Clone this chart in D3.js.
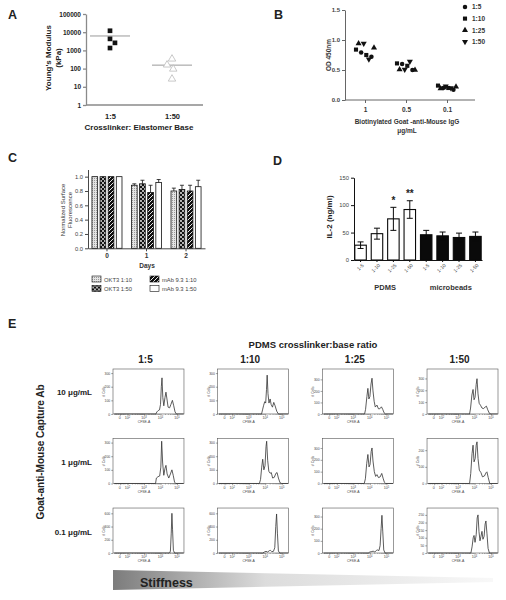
<!DOCTYPE html>
<html><head><meta charset="utf-8">
<script src="https://cdn.jsdelivr.net/npm/d3@7"></script>
<style>
body{margin:0;background:#fff;}
text{font-family:"Liberation Sans",Arial,Helvetica,sans-serif;}
</style></head><body>
<svg id="chart" width="506" height="600"></svg>
<script>
// ---------------- DATA ----------------
// Panel A
const aCategories = ["1:5", "1:50"];
const aValues1to5 = [12000, 4300, 2600, 1350];
const aValues1to50 = [340, 160, 95, 27];
const aJitter1to5 = [0, 0, 0.08, 0];
const aJitter1to50 = [0, -0.08, 0.02, 0];
const aMeans = [6200, 155];
const aYTicks = [1, 10, 100, 1000, 10000, 100000];

// Panel B
const bCategories = ["1", "0.5", "0.1"];
const bSeries = ["1:5", "1:10", "1:25", "1:50"];
const b1to5  = [0.79, 0.72, 0.50, 0.60, 0.20, 0.17];
const b1to10 = [0.84, 0.75, 0.57, 0.61, 0.24, 0.20];
const b1to25 = [0.94, 0.87, 0.50, 0.51, 0.19, 0.22];
const b1to50 = [0.94, 0.68, 0.64, 0.51, 0.23, 0.20];
const bYTicks = [0, 0.5, 1.0, 1.5];

// Panel C
const cDays = ["0", "1", "2"];
const cSeries = ["OKT3 1:10", "OKT3 1:50", "mAb 9.3 1:10", "mAb 9.3 1:50"];
const cOKT3_10 = [1.0, 0.88, 0.80];
const cOKT3_10Err = [0, 0.02, 0.04];
const cOKT3_50 = [1.0, 0.90, 0.82];
const cOKT3_50Err = [0, 0.05, 0.06];
const cMab_10 = [1.0, 0.78, 0.80];
const cMab_10Err = [0, 0.10, 0.08];
const cMab_50 = [1.0, 0.92, 0.86];
const cMab_50Err = [0, 0.04, 0.09];
const cYTicks = [0, 0.2, 0.4, 0.6, 0.8, 1.0];

// Panel D
const dLabels = ["1-5", "1-10", "1-25", "1-50", "1-5", "1-10", "1-25", "1-50"];
const dPDMS = [27, 48, 75, 92];
const dPDMSErr = [6, 10, 21, 16];
const dBeads = [46, 44, 41, 43];
const dBeadsErr = [8, 7, 8, 8];
const dStars = ["", "", "*", "**"];
const dGroups = ["PDMS", "microbeads"];
const dYTicks = [0, 50, 100, 150];

// Panel E
const eColumns = ["1:5", "1:10", "1:25", "1:50"];
const eRows = ["10 \u03bcg/mL", "1 \u03bcg/mL", "0.1 \u03bcg/mL"];
const eXTickValues = [1.54, 2, 3, 4, 5];
const eXTickBase = ["0", "10", "10", "10", "10"];
const eXTickExp = ["", "2", "3", "4", "5"];
const h10_5  = [[1.2,0],[3.72,0],[3.78,15],[3.86,25],[3.94,30],[4.0,70],[4.05,200],[4.09,265],[4.14,120],[4.2,60],[4.27,120],[4.33,160],[4.39,110],[4.46,50],[4.55,45],[4.63,70],[4.72,100],[4.8,60],[4.88,15],[4.96,0],[5.4,0]];
const h10_10 = [[1.2,0],[3.78,0],[3.84,30],[3.9,60],[3.97,90],[4.03,80],[4.08,180],[4.12,285],[4.17,150],[4.23,80],[4.3,110],[4.36,70],[4.44,50],[4.52,85],[4.6,60],[4.7,20],[4.8,0],[5.4,0]];
const h10_25 = [[1.2,0],[3.68,0],[3.74,40],[3.82,150],[3.88,222],[3.94,130],[4.0,150],[4.07,260],[4.13,310],[4.19,200],[4.26,110],[4.33,60],[4.43,77],[4.52,45],[4.6,45],[4.7,62],[4.78,40],[4.86,10],[4.95,0],[5.4,0]];
const h10_50 = [[1.2,0],[3.7,0],[3.76,50],[3.84,160],[3.91,207],[3.97,120],[4.03,140],[4.1,250],[4.15,298],[4.21,170],[4.28,90],[4.36,74],[4.45,50],[4.55,45],[4.65,60],[4.72,66],[4.8,35],[4.9,5],[5.0,0],[5.4,0]];
const h1_5   = [[1.2,0],[3.7,0],[3.75,40],[3.85,50],[3.95,55],[4.02,120],[4.07,310],[4.13,150],[4.2,60],[4.27,110],[4.33,133],[4.4,70],[4.5,40],[4.6,70],[4.69,100],[4.77,60],[4.85,10],[4.93,0],[5.4,0]];
const h1_10  = [[1.2,0],[3.65,0],[3.72,30],[3.79,120],[3.85,178],[3.92,100],[3.99,130],[4.05,270],[4.09,310],[4.15,170],[4.22,90],[4.3,75],[4.37,80],[4.45,40],[4.55,45],[4.65,75],[4.72,80],[4.8,40],[4.9,5],[5.0,0],[5.4,0]];
const h1_25  = [[1.2,0],[3.66,0],[3.73,40],[3.81,170],[3.88,245],[3.95,140],[4.01,160],[4.08,270],[4.13,300],[4.19,190],[4.27,100],[4.35,60],[4.43,75],[4.52,50],[4.62,55],[4.72,85],[4.8,45],[4.88,10],[4.96,0],[5.4,0]];
const h1_50  = [[1.2,0],[3.7,0],[3.77,60],[3.85,180],[3.91,230],[3.97,130],[4.04,150],[4.1,230],[4.15,250],[4.21,150],[4.29,80],[4.39,65],[4.48,40],[4.6,45],[4.7,65],[4.75,70],[4.83,35],[4.92,0],[5.4,0]];
const h01_5  = [[1.2,0],[4.55,0],[4.6,30],[4.65,300],[4.69,600],[4.73,350],[4.78,40],[4.85,0],[5.4,0]];
const h01_10 = [[1.2,0],[3.85,0],[3.95,15],[4.05,25],[4.15,15],[4.25,35],[4.32,40],[4.4,20],[4.5,25],[4.58,80],[4.64,400],[4.69,590],[4.74,300],[4.8,30],[4.88,0],[5.4,0]];
const h01_25 = [[1.2,0],[3.9,0],[4.0,8],[4.12,12],[4.2,15],[4.3,8],[4.4,22],[4.46,25],[4.55,20],[4.62,60],[4.68,200],[4.73,310],[4.78,180],[4.84,25],[4.92,0],[5.4,0]];
const h01_50 = [[1.2,0],[3.78,0],[3.85,40],[3.92,100],[3.97,115],[4.03,70],[4.1,120],[4.16,230],[4.21,250],[4.27,140],[4.33,80],[4.39,110],[4.45,142],[4.51,90],[4.58,110],[4.64,190],[4.69,210],[4.75,130],[4.82,30],[4.9,0],[5.4,0]];
const eYMaxRow1 = [330, 330, 390, 380];
const eYMaxRow2 = [330, 330, 380, 270];
const eYMaxRow3 = [680, 680, 370, 295];
const eYStepRow1 = [100, 100, 100, 100];
const eYStepRow2 = [100, 100, 100, 100];
const eYStepRow3 = [200, 200, 100, 50];

// ---------------- DRAW ----------------
const FONT = "'Liberation Sans', Arial, Helvetica, sans-serif";
const svg = d3.select("#chart");
const defs = svg.append("defs");

function styleAxis(sel, color, width, fs, fw, tc) {
  sel.attr("font-family", FONT);
  sel.selectAll("path,line").attr("stroke", color).attr("stroke-width", width);
  sel.selectAll("text").attr("font-size", fs).attr("font-weight", fw).attr("fill", tc);
}
function label(g, txt, x, y, opts = {}) {
  const t = g.append("text").attr("x", x).attr("y", y).text(txt)
    .attr("font-size", opts.fs || 8).attr("font-weight", opts.fw || "bold")
    .attr("fill", opts.fill || "#222").attr("text-anchor", opts.anchor || "start");
  if (opts.rotate) t.attr("transform", `rotate(-90,${x},${y})`);
  return t;
}

// Panel letters
[["A", 8, 19], ["B", 274, 19], ["C", 8, 162], ["D", 273, 165], ["E", 8, 328]].forEach(([t, x, y]) =>
  label(svg, t, x, y, { fs: 12.5, fill: "#222" }));

// ===== Panel A =====
{
  const g = svg.append("g");
  const x = d3.scalePoint().domain(aCategories).range([110, 172]);
  const y = d3.scaleLog().domain([1, 100000]).range([105, 14]);
  const step = x.step();
  const ya = g.append("g").attr("transform", "translate(86,0)")
    .call(d3.axisLeft(y).tickValues(aYTicks).tickFormat(d3.format("d")).tickSize(3).tickSizeOuter(0).tickPadding(2));
  styleAxis(ya, "#8a8a8a", 1.3, 6.5, "bold", "#222");
  const xa = g.append("g").attr("transform", "translate(0,105)")
    .call(d3.axisBottom(x).tickSize(0).tickPadding(9));
  xa.select(".domain").remove();
  styleAxis(xa, "#8a8a8a", 1.3, 7.5, "bold", "#222");
  g.append("line").attr("x1", 86).attr("x2", 203).attr("y1", 105).attr("y2", 105)
    .attr("stroke", "#8a8a8a").attr("stroke-width", 1.3);
  g.selectAll(".mean").data(aMeans).join("line")
    .attr("x1", (d, i) => x(aCategories[i]) - 20).attr("x2", (d, i) => x(aCategories[i]) + 20)
    .attr("y1", d => y(d)).attr("y2", d => y(d)).attr("stroke", "#999").attr("stroke-width", 1);
  g.selectAll(".sq").data(aValues1to5).join("path")
    .attr("d", d3.symbol(d3.symbolSquare, 22))
    .attr("transform", (d, i) => `translate(${x("1:5") + aJitter1to5[i] * step},${y(d)})`)
    .attr("fill", "#111");
  g.selectAll(".tri").data(aValues1to50).join("path")
    .attr("d", d3.symbol(d3.symbolTriangle, 24))
    .attr("transform", (d, i) => `translate(${x("1:50") + aJitter1to50[i] * step},${y(d)})`)
    .attr("fill", "#fff").attr("stroke", "#bbb").attr("stroke-width", 0.8);
  label(g, "Crosslinker: Elastomer Base", 139, 130, { fs: 8, anchor: "middle" });
  label(g, "Young's Modulus", 51, 58, { fs: 8, anchor: "middle", rotate: true });
  label(g, "(kPa)", 60.5, 58, { fs: 8, anchor: "middle", rotate: true });
}

// ===== Panel B =====
{
  const g = svg.append("g");
  const x = d3.scalePoint().domain(bCategories).range([365, 447]);
  const y = d3.scaleLinear().domain([0, 1.5]).range([100, 10]);
  const ya = g.append("g").attr("transform", "translate(345,0)")
    .call(d3.axisLeft(y).tickValues(bYTicks).tickFormat(d3.format(".1f")).tickSize(3).tickSizeOuter(0).tickPadding(2));
  styleAxis(ya, "#666", 1, 6, "bold", "#444");
  const xa = g.append("g").attr("transform", "translate(0,100)")
    .call(d3.axisBottom(x).tickSize(3).tickSizeOuter(0).tickPadding(4));
  xa.select(".domain").remove();
  styleAxis(xa, "#666", 1, 6.5, "bold", "#333");
  g.append("line").attr("x1", 345).attr("x2", 475).attr("y1", 100).attr("y2", 100)
    .attr("stroke", "#666").attr("stroke-width", 1);
  const symbols = {
    "1:5": d3.symbol(d3.symbolCircle, 16)(),
    "1:10": d3.symbol(d3.symbolSquare, 17)(),
    "1:25": d3.symbol(d3.symbolTriangle, 16)(),
    "1:50": d3.symbol(d3.symbolTriangle, 16)()
  };
  const rot = { "1:5": 0, "1:10": 0, "1:25": 0, "1:50": 180 };
  const seriesVals = { "1:5": b1to5, "1:10": b1to10, "1:25": b1to25, "1:50": b1to50 };
  const slots = d3.scalePoint()
    .domain(["1:10-0", "1:25-0", "1:5-0", "1:50-0", "1:10-1", "1:50-1", "1:5-1", "1:25-1"])
    .range([-9, 9]);
  const pts = [];
  bSeries.forEach(s => seriesVals[s].forEach((v, i) => {
    pts.push({ s, v, cat: bCategories[Math.floor(i / 2)], rep: i % 2 });
  }));
  g.selectAll(".pt").data(pts).join("path")
    .attr("d", d => symbols[d.s])
    .attr("transform", d => `translate(${x(d.cat) + slots(d.s + "-" + ((d.rep + bCategories.indexOf(d.cat)) % 2))},${y(d.v)}) rotate(${rot[d.s]})`)
    .attr("fill", "#111");
  const leg = g.selectAll(".leg").data(bSeries).join("g")
    .attr("transform", (d, i) => `translate(465,${7 + i * 11.6})`);
  leg.append("path").attr("d", d => symbols[d]).attr("transform", d => `rotate(${rot[d]})`).attr("fill", "#111");
  leg.append("text").attr("x", 7).attr("y", 2.3).text(d => d)
    .attr("font-size", 6.5).attr("font-weight", "bold").attr("fill", "#333");
  label(g, "OD 450nm", 331, 55, { fs: 6.5, anchor: "middle", rotate: true, fill: "#333" });
  label(g, "Biotinylated Goat -anti-Mouse IgG", 407, 124, { fs: 6.5, anchor: "middle", fill: "#333" });
  label(g, "\u03bcg/mL", 407, 133, { fs: 6.5, anchor: "middle", fill: "#333" });
}

// ===== Patterns / gradient =====
{
  const p1 = defs.append("pattern").attr("id", "pOKT10").attr("patternUnits", "userSpaceOnUse").attr("width", 2).attr("height", 2);
  p1.append("rect").attr("width", 2).attr("height", 2).attr("fill", "#e4e4e4");
  p1.append("rect").attr("width", 1).attr("height", 1).attr("fill", "#9a9a9a");
  const p2 = defs.append("pattern").attr("id", "pOKT50").attr("patternUnits", "userSpaceOnUse").attr("width", 4).attr("height", 4);
  p2.append("rect").attr("width", 4).attr("height", 4).attr("fill", "#111");
  p2.append("circle").attr("cx", 1).attr("cy", 1).attr("r", 0.9).attr("fill", "#fff");
  p2.append("circle").attr("cx", 3).attr("cy", 3).attr("r", 0.9).attr("fill", "#fff");
  const p3 = defs.append("pattern").attr("id", "pMab10").attr("patternUnits", "userSpaceOnUse").attr("width", 4).attr("height", 4);
  p3.append("rect").attr("width", 4).attr("height", 4).attr("fill", "#111");
  p3.append("path").attr("d", "M-1,1 L1,-1 M0,4 L4,0 M3,5 L5,3").attr("stroke", "#fff").attr("stroke-width", 0.9);
  const grad = defs.append("linearGradient").attr("id", "stiff").attr("x1", "0%").attr("x2", "100%");
  grad.append("stop").attr("offset", "0%").attr("stop-color", "#7c7c7c");
  grad.append("stop").attr("offset", "40%").attr("stop-color", "#dcdcdc");
  grad.append("stop").attr("offset", "100%").attr("stop-color", "#f8f8f8");
}
const cFills = { "OKT3 1:10": "url(#pOKT10)", "OKT3 1:50": "url(#pOKT50)", "mAb 9.3 1:10": "url(#pMab10)", "mAb 9.3 1:50": "#fff" };

// ===== Panel C =====
{
  const g = svg.append("g");
  const x0 = d3.scaleBand().domain(cDays).range([88, 205]).paddingInner(0.24).paddingOuter(0.1);
  const x1 = d3.scaleBand().domain(cSeries).range([0, x0.bandwidth()]).paddingInner(0.3);
  const y = d3.scaleLinear().domain([0, 1.1]).range([248.3, 169.5]);
  const vals = { "OKT3 1:10": [cOKT3_10, cOKT3_10Err], "OKT3 1:50": [cOKT3_50, cOKT3_50Err], "mAb 9.3 1:10": [cMab_10, cMab_10Err], "mAb 9.3 1:50": [cMab_50, cMab_50Err] };
  const bars = [];
  cSeries.forEach(s => cDays.forEach((d, i) => bars.push({ s, d, v: vals[s][0][i], e: vals[s][1][i] })));
  g.selectAll(".bar").data(bars).join("rect")
    .attr("x", d => x0(d.d) + x1(d.s)).attr("width", x1.bandwidth())
    .attr("y", d => y(d.v)).attr("height", d => y(0) - y(d.v))
    .attr("fill", d => cFills[d.s]).attr("stroke", "#111").attr("stroke-width", 0.8);
  const eb = bars.filter(d => d.e > 0);
  g.selectAll(".eb").data(eb).join("path")
    .attr("d", d => {
      const cx = x0(d.d) + x1(d.s) + x1.bandwidth() / 2;
      return `M${cx},${y(d.v)}V${y(d.v + d.e)}M${cx - 2},${y(d.v + d.e)}H${cx + 2}`;
    }).attr("stroke", "#111").attr("stroke-width", 0.8).attr("fill", "none");
  const ya = g.append("g").attr("transform", "translate(88,0)")
    .call(d3.axisLeft(y).tickValues(cYTicks).tickFormat(d3.format(".1f")).tickSize(3).tickSizeOuter(0).tickPadding(2));
  styleAxis(ya, "#333", 0.9, 5.8, "normal", "#444");
  const xa = g.append("g").attr("transform", "translate(0,248.3)")
    .call(d3.axisBottom(x0).tickSize(3).tickSizeOuter(0).tickPadding(2));
  styleAxis(xa, "#333", 0.9, 6.5, "bold", "#333");
  label(g, "Days", 147, 268, { fs: 6.5, anchor: "middle", fill: "#333" });
  label(g, "Normalized Surface", 64.5, 210, { fs: 6, anchor: "middle", rotate: true, fill: "#333", fw: "normal" });
  label(g, "Fluorescence", 71.5, 210, { fs: 6, anchor: "middle", rotate: true, fill: "#333", fw: "normal" });
  const legPos = [[92, 281], [92, 290.5], [150, 281], [150, 290.5]];
  const leg = g.selectAll(".leg").data(cSeries).join("g")
    .attr("transform", (d, i) => `translate(${legPos[i][0]},${legPos[i][1]})`);
  leg.append("rect").attr("x", 0).attr("y", -5).attr("width", 9).attr("height", 6)
    .attr("fill", d => cFills[d]).attr("stroke", "#111").attr("stroke-width", 0.6);
  leg.append("text").attr("x", 12).attr("y", 0.5).text(d => d)
    .attr("font-size", 5.8).attr("fill", "#444");
}

// ===== Panel D =====
{
  const g = svg.append("g");
  const idx = dLabels.map((d, i) => String(i));
  const x = d3.scaleBand().domain(idx).range([354, 482]).paddingInner(0.3).paddingOuter(0.05);
  const y = d3.scaleLinear().domain([0, 150]).range([260, 177.7]);
  const vals = dPDMS.concat(dBeads);
  const errs = dPDMSErr.concat(dBeadsErr);
  const bars = vals.map((v, i) => ({ i: String(i), v, e: errs[i], beads: i >= dPDMS.length }));
  g.selectAll(".bar").data(bars).join("rect")
    .attr("x", d => x(d.i)).attr("width", x.bandwidth())
    .attr("y", d => y(d.v)).attr("height", d => y(0) - y(d.v))
    .attr("fill", d => d.beads ? "#0a0a0a" : "#fff").attr("stroke", "#0a0a0a").attr("stroke-width", 1.1);
  g.selectAll(".eb").data(bars).join("path")
    .attr("d", d => {
      const cx = x(d.i) + x.bandwidth() / 2;
      return `M${cx},${y(d.v - d.e)}V${y(d.v + d.e)}M${cx - 3},${y(d.v + d.e)}H${cx + 3}M${cx - 3},${y(d.v - d.e)}H${cx + 3}`;
    }).attr("stroke", "#0a0a0a").attr("stroke-width", 1).attr("fill", "none");
  g.selectAll(".star").data(bars.filter((d, i) => i < dStars.length && dStars[i])).join("text")
    .attr("x", d => x(d.i) + x.bandwidth() / 2).attr("y", d => y(d.v + d.e) - 3.5)
    .attr("text-anchor", "middle").attr("font-size", 10).attr("font-weight", "bold").attr("fill", "#222")
    .text(d => dStars[+d.i]);
  const ya = g.append("g").attr("transform", "translate(354,0)")
    .call(d3.axisLeft(y).tickValues(dYTicks).tickSize(3).tickSizeOuter(0).tickPadding(2));
  styleAxis(ya, "#111", 1, 5.8, "normal", "#444");
  const xa = g.append("g").attr("transform", "translate(0,260)")
    .call(d3.axisBottom(x).tickFormat(i => dLabels[+i]).tickSize(2).tickSizeOuter(0).tickPadding(2));
  styleAxis(xa, "#111", 1, 5, "normal", "#444");
  xa.selectAll("text").attr("text-anchor", "end").attr("transform", "rotate(-45)")
    .attr("dx", "-0.3em").attr("dy", "0.5em");
  const c1 = d3.mean(idx.slice(0, 4), i => x(i) + x.bandwidth() / 2);
  const c2 = d3.mean(idx.slice(4), i => x(i) + x.bandwidth() / 2);
  label(g, dGroups[0], c1, 290, { fs: 7.5, anchor: "middle", fill: "#333" });
  label(g, dGroups[1], c2, 290, { fs: 7.5, anchor: "middle", fill: "#333" });
  label(g, "IL-2 (ng/ml)", 331.5, 217, { fs: 8, anchor: "middle", rotate: true, fill: "#222" });
}

// ===== Panel E =====
{
  const g = svg.append("g");
  const col = d3.scaleBand().domain(eColumns).range([113, 498]).paddingInner(0.322).paddingOuter(0);
  const row = d3.scaleBand().domain(eRows).range([369, 553]).paddingInner(0.353).paddingOuter(0);
  const bw = col.bandwidth(), bh = row.bandwidth();
  const ex = d3.scaleLinear().domain([1.125, 5.42]).range([0, bw]);
  const grid = [[h10_5, h10_10, h10_25, h10_50], [h1_5, h1_10, h1_25, h1_50], [h01_5, h01_10, h01_25, h01_50]];
  const ymax = [eYMaxRow1, eYMaxRow2, eYMaxRow3];
  const ystep = [eYStepRow1, eYStepRow2, eYStepRow3];
  const minor = [];
  [2, 3, 4].forEach(dd => d3.range(2, 10).forEach(k => minor.push(dd + Math.log10(k))));
  [1.25, 1.35, 1.45, 1.65, 1.75, 1.85].forEach(v => minor.push(v));
  eRows.forEach((r, ri) => {
    eColumns.forEach((c, ci) => {
      const p = g.append("g").attr("transform", `translate(${col(c)},${row(r)})`);
      const ey = d3.scaleLinear().domain([0, ymax[ri][ci]]).range([bh, 0]);
      p.append("rect").attr("width", bw).attr("height", bh).attr("fill", "#fff")
        .attr("stroke", "#555").attr("stroke-width", 0.6);
      p.append("path").datum(grid[ri][ci])
        .attr("d", d3.line().x(d => ex(d[0])).y(d => ey(d[1])))
        .attr("fill", "none").attr("stroke", "#333").attr("stroke-width", 0.8).attr("stroke-linejoin", "round");
      const xa = p.append("g").attr("transform", `translate(0,${bh})`)
        .call(d3.axisBottom(ex).tickValues(eXTickValues).tickFormat("").tickSize(1.8).tickSizeOuter(0));
      xa.select(".domain").remove();
      styleAxis(xa, "#444", 0.5, 3.6, "normal", "#444");
      const tl = p.selectAll(".xtl").data(eXTickValues).join("text")
        .attr("x", d => ex(d)).attr("y", bh + 5.5).attr("text-anchor", "middle")
        .attr("font-size", 3.6).attr("fill", "#444");
      tl.append("tspan").text((d, i) => eXTickBase[i]);
      tl.append("tspan").attr("dy", -1.3).attr("font-size", 2.6).text((d, i) => eXTickExp[i]);
      p.selectAll(".mn").data(minor).join("line")
        .attr("x1", d => ex(d)).attr("x2", d => ex(d)).attr("y1", bh).attr("y2", bh + 1)
        .attr("stroke", "#444").attr("stroke-width", 0.4);
      const ya = p.append("g")
        .call(d3.axisLeft(ey).tickValues(d3.range(0, ymax[ri][ci], ystep[ri][ci])).tickSize(1.8).tickSizeOuter(0).tickPadding(1));
      ya.select(".domain").remove();
      styleAxis(ya, "#444", 0.5, 3.4, "normal", "#444");
      p.append("text").attr("x", ex(3)).attr("y", bh + 9.5).attr("text-anchor", "middle")
        .attr("font-size", 3.4).attr("fill", "#444").text("CFSE-A");
      p.append("text").attr("transform", `translate(-8,${bh / 2}) rotate(-90)`).attr("text-anchor", "middle")
        .attr("font-size", 3.4).attr("fill", "#444").text("# Cells");
    });
    label(g, r, 92, row(r) + bh / 2 + 4, { fs: 8, anchor: "end", fill: "#222" });
  });
  eColumns.forEach(c => label(g, c, col(c) + bw / 2 - 3, 362.5, { fs: 10, anchor: "middle", fill: "#222" }));
  label(g, "PDMS crosslinker:base ratio", 313, 347.5, { fs: 9.5, anchor: "middle", fill: "#222" });
  label(g, "Goat-anti-Mouse Capture Ab", 43.5, 452, { fs: 10, anchor: "middle", rotate: true, fill: "#222" });
  const x0 = col.range()[0], x1 = col.range()[1] - 5;
  g.append("path").attr("d", `M${x0},570 L${x1},578 L${x1},582 L${x0},590 Z`)
    .attr("fill", "url(#stiff)");
  label(g, "Stiffness", x0 + 27, 587, { fs: 12.5, fill: "#222" });
}
</script>
</body></html>
